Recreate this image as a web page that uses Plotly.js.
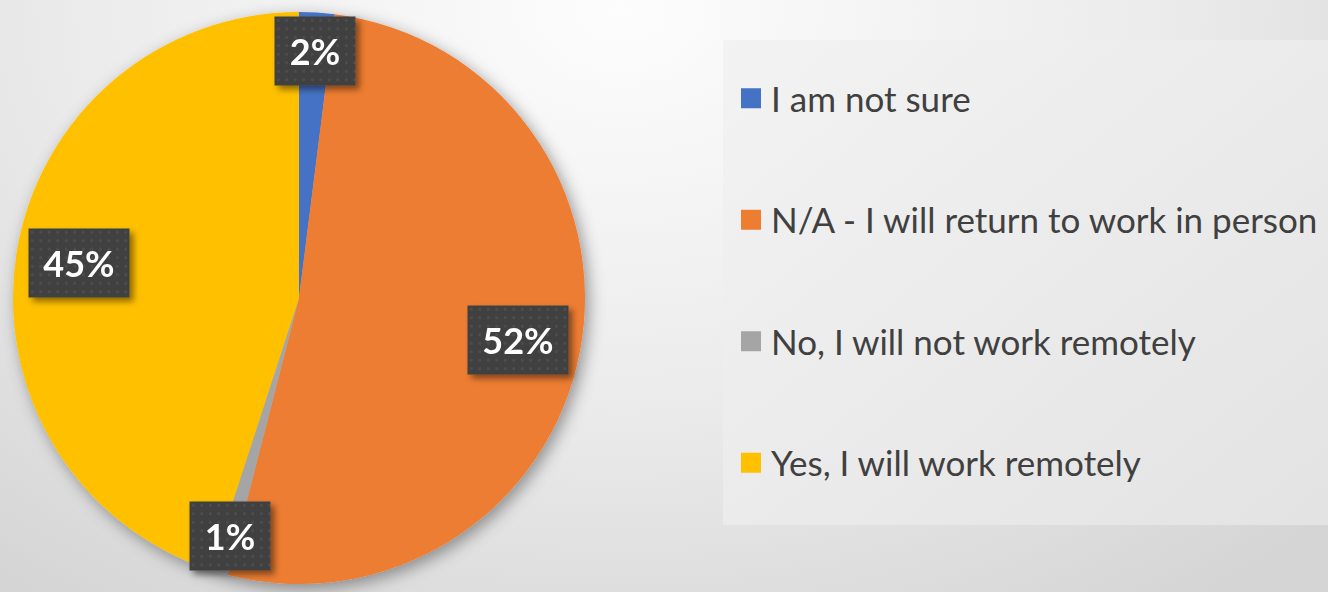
<!DOCTYPE html>
<html><head><meta charset="utf-8">
<script src="https://cdn.plot.ly/plotly-3.0.1.min.js"></script>
<style>
html,body{margin:0;padding:0;width:1328px;height:592px;overflow:hidden;}
body{background: radial-gradient(ellipse 1000px 720px at 620px 10px, #fdfdfd 0%, #ebebeb 55%, #d5d5d5 100%);}
#chart{width:1328px;height:592px;}
</style></head><body><div id="chart"></div>
<script>
const categories = ["I am not sure", "N/A - I will return to work in person", "No, I will not work remotely", "Yes, I will work remotely"];
const values = [2, 52, 1, 45];
const colors = ["#4472C4", "#ED7D31", "#A5A5A5", "#FFC000"];

const W = 1328, H = 592;
const CX = 299, CY = 298, R = 286;
const total = values.reduce((a, b) => a + b, 0);

const pie = {
  type: 'pie', labels: categories, values: values, sort: false,
  direction: 'clockwise', rotation: 0,
  marker: {colors: colors, line: {width: 0}},
  textinfo: 'none', hoverinfo: 'label+percent', showlegend: false,
  domain: {x: [(CX - R) / W, (CX + R) / W], y: [(H - CY - R) / H, (H - CY + R) / H]}
};

const legendTraces = categories.map((c, i) => ({
  type: 'scatter', mode: 'markers', x: [0], y: [0], name: c, legendgroup: 'g' + i,
  marker: {symbol: 'square', size: 16, color: colors[i], line: {width: 4, color: colors[i]}},
  hoverinfo: 'skip', showlegend: true
}));

let cum = 0;
const annotations = values.map((v, i) => {
  const frac = v / total;
  const mid = (cum + v / 2) / total;
  cum += v;
  const th = 2 * Math.PI * mid;
  const f = frac < 0.05 ? 0.865 : 0.78;
  const px = CX + f * R * Math.sin(th), py = CY - f * R * Math.cos(th);
  const txt = Math.round(frac * 100) + '%';
  return {
    xref: 'paper', yref: 'paper', x: px / W, y: 1 - py / H,
    xanchor: 'center', yanchor: 'middle', showarrow: false,
    text: '<b>' + txt + '</b>',
    font: {family: 'Lato', size: 36, color: '#ffffff'},
    bgcolor: '#404040', width: txt.length < 3 ? 80 : 100, height: 68, borderpad: 0
  };
});

const layout = {
  width: W, height: H, margin: {l: 0, r: 0, t: 0, b: 0},
  paper_bgcolor: 'rgba(0,0,0,0)', plot_bgcolor: 'rgba(0,0,0,0)',
  xaxis: {visible: false, range: [10, 11], domain: [0, 0.01], fixedrange: true},
  yaxis: {visible: false, range: [10, 11], domain: [0, 0.01], fixedrange: true},
  showlegend: true,
  legend: {
    x: 731 / W, y: 1 - 69 / H, xanchor: 'left', yanchor: 'top',
    bgcolor: 'rgba(0,0,0,0)', borderwidth: 0,
    font: {family: 'Lato', size: 35, color: '#404040'},
    tracegroupgap: 73, itemclick: false, itemdoubleclick: false
  },
  shapes: [{
    type: 'rect', xref: 'paper', yref: 'paper', layer: 'below',
    x0: 723 / W, x1: 1, y0: 1 - 525 / H, y1: 1 - 40 / H,
    fillcolor: '#ececec', line: {width: 0}
  }],
  annotations: annotations
};

Plotly.newPlot('chart', [pie].concat(legendTraces), layout, {displayModeBar: false}).then(gd => {
  const svg = gd.querySelector('.main-svg');
  let defs = svg.querySelector('defs');
  defs.insertAdjacentHTML('beforeend',
    '<filter id="pieShadow" x="-20%" y="-20%" width="140%" height="140%"><feDropShadow dx="4" dy="5" stdDeviation="8" flood-color="#000" flood-opacity="0.38"/></filter>' +
    '<filter id="boxShadow" x="-20%" y="-20%" width="150%" height="150%"><feDropShadow dx="4" dy="4" stdDeviation="3" flood-color="#000" flood-opacity="0.45"/></filter>' +
    '<pattern id="dots" width="8.5" height="8.5" patternUnits="userSpaceOnUse"><rect width="8.5" height="8.5" fill="#404040"/><rect x="3" y="3" width="2.6" height="2.6" fill="#4e4e4e"/></pattern>' +
    '<linearGradient id="legGrad" x1="0" y1="0" x2="1" y2="1"><stop offset="0" stop-color="#f3f3f3"/><stop offset="1" stop-color="#e3e3e3"/></linearGradient>');
  const pl = gd.querySelector('.pielayer');
  if (pl) pl.setAttribute('filter', 'url(#pieShadow)');
  gd.querySelectorAll('.annotation').forEach(a => {
    a.setAttribute('filter', 'url(#boxShadow)');
    const bg = a.querySelector('rect.bg');
    if (bg) bg.style.fill = 'url(#dots)';
  });
  gd.querySelectorAll('.shapelayer path').forEach(p => { p.style.fill = 'url(#legGrad)'; });
});
</script>
</body></html>
